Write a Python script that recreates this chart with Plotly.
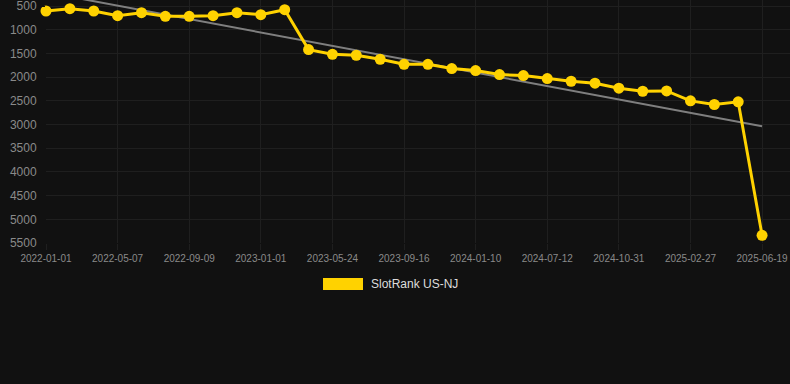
import numpy as np
import plotly.graph_objects as go

dates = [
    "2022-01-01", "2022-02-12", "2022-03-26", "2022-05-07", "2022-06-18", "2022-07-30",
    "2022-09-09", "2022-10-17", "2022-11-24", "2023-01-01", "2023-02-17", "2023-04-05",
    "2023-05-24", "2023-07-01", "2023-08-09", "2023-09-16", "2023-10-25", "2023-12-03",
    "2024-01-10", "2024-03-12", "2024-05-12", "2024-07-12", "2024-08-18", "2024-09-24",
    "2024-10-31", "2024-12-10", "2025-01-19", "2025-02-27", "2025-04-05", "2025-05-12",
    "2025-06-19",
]
rank_values = [
    605, 556, 605, 704, 640, 718, 718, 704, 640, 683, 577,
    1420, 1518, 1539, 1623, 1729, 1729, 1820, 1862, 1946, 1967,
    2031, 2087, 2129, 2234, 2298, 2291, 2501, 2578, 2522, 5338,
]
shown_ticks = dates[::3]
y_ticks = [500, 1000, 1500, 2000, 2500, 3000, 3500, 4000, 4500, 5000, 5500]
series_name = "SlotRank US-NJ"

idx = np.arange(len(dates))
slope, intercept = np.polyfit(idx, rank_values, 1)
trend = slope * idx + intercept

YELLOW = "#FFD200"
BG = "#111111"
GRID = "#1f1f1f"
TICK = "#8a8a8a"

fig = go.Figure()
fig.add_trace(go.Scatter(
    x=[idx[0], idx[-1]], y=[trend[0], trend[-1]], mode="lines",
    line=dict(color="#7f7f7f", width=2), showlegend=False, hoverinfo="skip",
))
fig.add_trace(go.Scatter(
    x=idx, y=rank_values, mode="lines+markers", name=series_name,
    line=dict(color=YELLOW, width=3),
    marker=dict(color=YELLOW, size=11),
    showlegend=False, cliponaxis=False,
))

fig.update_layout(
    width=790, height=384,
    margin=dict(l=46, r=0, t=0, b=141),
    paper_bgcolor=BG, plot_bgcolor=BG,
    font=dict(family="Liberation Sans, Arial, sans-serif", color=TICK),
    showlegend=False,
)
fig.update_xaxes(
    range=[0, 31.17],
    tickvals=idx[::3], ticktext=shown_ticks,
    showgrid=True, gridcolor=GRID, gridwidth=1,
    zeroline=False, showline=False,
    ticks="outside", ticklen=6, tickcolor=GRID,
    tickfont=dict(size=10, color=TICK),
    ticklabeloverflow="allow",
)
fig.update_yaxes(
    range=[5500, 373], tickvals=y_ticks,
    showgrid=True, gridcolor=GRID, gridwidth=1,
    zeroline=False, showline=False,
    ticks="outside", ticklen=6, tickcolor=BG,
    tickfont=dict(size=12, color=TICK),
    ticklabeloverflow="allow",
)

# legend
fig.add_shape(type="rect", xref="paper", yref="paper",
              x0=(323 - 46) / 744, x1=(363 - 46) / 744,
              y0=(243 - 290) / 243, y1=(243 - 278) / 243,
              fillcolor=YELLOW, line=dict(width=0))
fig.add_annotation(text=series_name, xref="paper", yref="paper",
                   x=(369 - 46) / 744, y=(243 - 284) / 243,
                   xanchor="left", yanchor="middle", showarrow=False,
                   font=dict(size=12, color="#dddddd"))

fig.write_html(
    "out.html",
    config={"displayModeBar": False},
    post_script="document.body.style.margin='0';document.body.style.background='#111111';",
)
